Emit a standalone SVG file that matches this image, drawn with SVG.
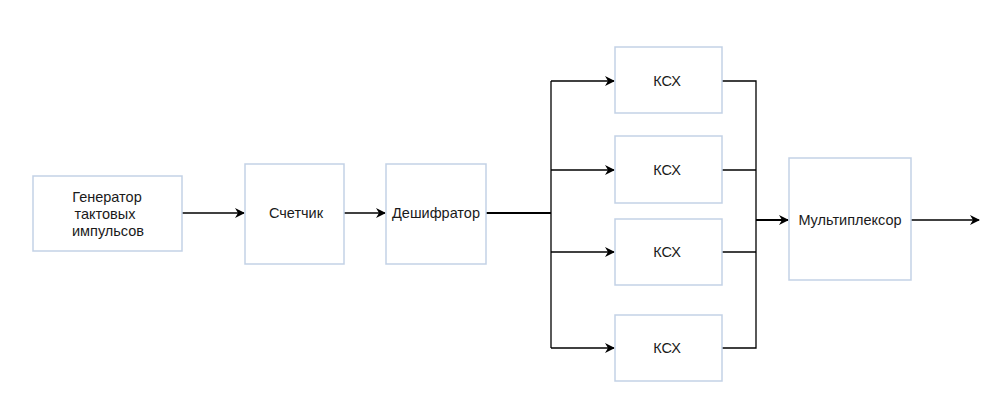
<svg xmlns="http://www.w3.org/2000/svg" width="1007" height="403" viewBox="0 0 1007 403">
<style>
.box{fill:#fff;stroke:#c3d2e6;stroke-width:1.5}
.t{font-family:"Liberation Sans",Arial,sans-serif;font-size:14.5px;fill:#1a1a1a;text-anchor:middle}
.w{fill:none;stroke:#000;stroke-width:1.3}
.wb{fill:none;stroke:#000;stroke-width:2}
</style>
<defs>
<marker id="ar" markerWidth="10" markerHeight="10" refX="9" refY="5" orient="auto" markerUnits="userSpaceOnUse">
<path d="M0,0 L10,5 L0,10 L3,5 Z" fill="#000"/>
</marker>
</defs>
<rect width="1007" height="403" fill="#fff"/>
<g id="connectors">
<path class="w" d="M182,213 H244" marker-end="url(#ar)"/>
<path class="w" d="M344,213 H385" marker-end="url(#ar)"/>
<path class="wb" d="M486,213 H551"/>
<path class="w" d="M551,81 V348"/>
<path class="w" d="M551,81 H614" marker-end="url(#ar)"/>
<path class="w" d="M551,170 H614" marker-end="url(#ar)"/>
<path class="w" d="M551,252 H614" marker-end="url(#ar)"/>
<path class="w" d="M551,348 H614" marker-end="url(#ar)"/>
<path class="w" d="M722,81 H756 V348 H722"/>
<path class="w" d="M722,170 H756"/>
<path class="w" d="M722,252 H756"/>
<path class="wb" d="M756,220 H788" marker-end="url(#ar)"/>
<path class="w" d="M911,220 H979" marker-end="url(#ar)"/>
</g>
<g id="gen">
<rect class="box" x="33" y="176" width="149" height="75"/>
<text class="t" x="107" y="202">Генератор</text>
<text class="t" x="105" y="219">тактовых</text>
<text class="t" x="108" y="236">импульсов</text>
</g>
<g id="counter">
<rect class="box" x="245" y="164" width="99" height="100"/>
<text class="t" x="296" y="218">Счетчик</text>
</g>
<g id="decoder">
<rect class="box" x="386" y="164" width="100" height="100"/>
<text class="t" x="436" y="218">Дешифратор</text>
</g>
<g id="ksx1">
<rect class="box" x="615" y="47" width="107" height="66"/>
<text class="t" x="667" y="86">КСХ</text>
</g>
<g id="ksx2">
<rect class="box" x="615" y="136" width="107" height="67"/>
<text class="t" x="667" y="175">КСХ</text>
</g>
<g id="ksx3">
<rect class="box" x="615" y="219" width="107" height="66"/>
<text class="t" x="667" y="257">КСХ</text>
</g>
<g id="ksx4">
<rect class="box" x="615" y="315" width="107" height="66"/>
<text class="t" x="667" y="353">КСХ</text>
</g>
<g id="mux">
<rect class="box" x="789" y="158" width="122" height="122"/>
<text class="t" x="850" y="225">Мультиплексор</text>
</g>
</svg>
